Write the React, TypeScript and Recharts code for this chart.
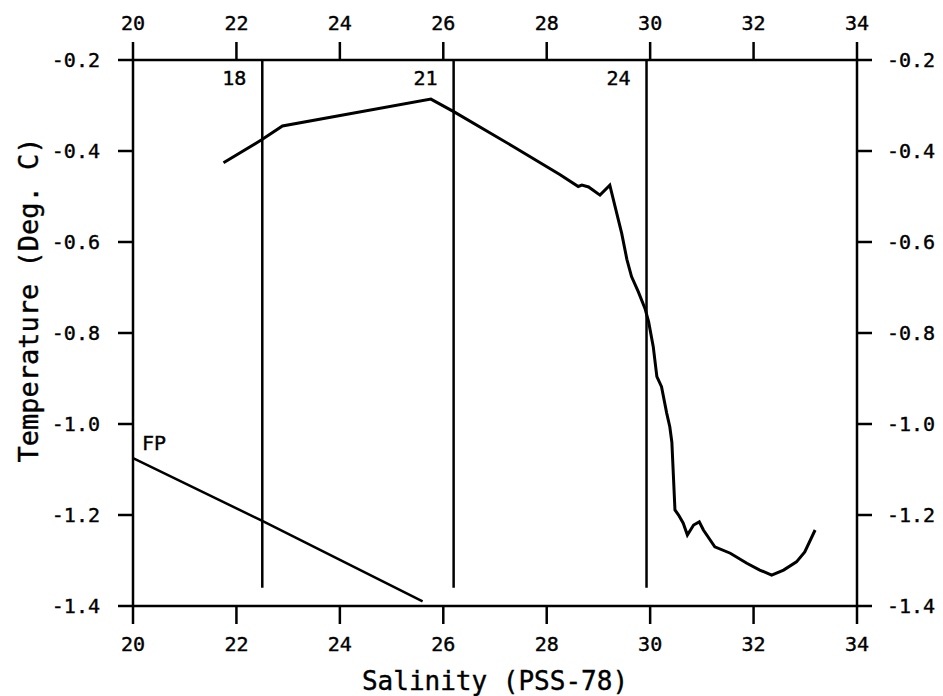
import { LineChart, Line, XAxis, YAxis, ReferenceLine, ReferenceDot, Label } from "recharts";

// T-S profile
const salinity = [
  21.75, 22.48, 22.89, 25.76, 26.21, 27.35, 28.26, 28.61, 28.68, 28.81, 29.03, 29.22, 29.45, 29.55,
  29.64, 29.77, 29.9, 29.97, 30.06, 30.13, 30.22, 30.32, 30.38, 30.42, 30.48, 30.55, 30.64, 30.72,
  30.84, 30.95, 31.03, 31.25, 31.55, 31.87, 32.12, 32.35, 32.58, 32.83, 32.99, 33.19,
];
const temperature = [
  -0.426, -0.376, -0.345, -0.286, -0.314, -0.39, -0.452, -0.478, -0.475, -0.479, -0.497, -0.475,
  -0.581, -0.638, -0.676, -0.709, -0.746, -0.775, -0.83, -0.896, -0.918, -0.976, -1.006, -1.04,
  -1.189, -1.2, -1.218, -1.244, -1.222, -1.215, -1.233, -1.27, -1.284, -1.306, -1.321, -1.332,
  -1.321, -1.303, -1.281, -1.233,
];

// freezing point line
const fpSalinity = [20, 22.5, 25.6];
const fpTemperature = [-1.075, -1.213, -1.39];

// sigma-t isopycnals
const sigmaSalinity = [22.5, 26.2, 29.93];
const sigmaLabels = ["18", "21", "24"];
const sigmaTop = -0.2;
const sigmaBottom = -1.36;

const xTicks = [20, 22, 24, 26, 28, 30, 32, 34];
const yTicks = [-0.2, -0.4, -0.6, -0.8, -1.0, -1.2, -1.4];

const profile = salinity.map((s, i) => ({ s, t: temperature[i] }));
const freezing = fpSalinity.map((s, i) => ({ s, t: fpTemperature[i] }));

const FONT = "'DejaVu Sans Mono', monospace";
const INK = "#000";
// thin outline on the glyphs to mimic the plotter pen
const tickStyle = { fill: INK, stroke: INK, strokeWidth: 0.4, fontFamily: FONT, fontSize: 20 };
const titleStyle = { fill: INK, stroke: INK, strokeWidth: 0.4, fontFamily: FONT, fontSize: 26 };
const axisLine = { stroke: INK, strokeWidth: 2.5 };

const SigmaLabel = ({ viewBox, text }: any) => (
  <text x={viewBox.x - 16} y={viewBox.y + 25} textAnchor="end" style={tickStyle}>
    {text}
  </text>
);

const FpLabel = ({ viewBox }: any) => (
  <text x={viewBox.x + 9} y={viewBox.y - 8} style={tickStyle}>
    FP
  </text>
);

const YTitle = ({ viewBox }: any) => {
  const cy = viewBox.y + viewBox.height / 2 - 33;
  return (
    <text
      transform={`translate(38, ${cy}) rotate(-90)`}
      textAnchor="middle"
      style={{ ...titleStyle, fontSize: 27 }}
    >
      Temperature (Deg. C)
    </text>
  );
};

export default function App() {
  return (
    <div style={{ position: "absolute", left: 0, top: 0, background: "#fff" }}>
      <LineChart width={943} height={696} margin={{ top: 0, right: 0, bottom: 0, left: 0 }}>
        <XAxis
          xAxisId="bottom"
          dataKey="s"
          type="number"
          domain={[20, 34]}
          ticks={xTicks}
          height={90}
          axisLine={axisLine}
          tickLine={axisLine}
          tickSize={18}
          tickMargin={13}
          tick={tickStyle}
          allowDataOverflow
        >
          <Label value="Salinity (PSS-78)" position="insideBottom" offset={6} style={titleStyle} />
        </XAxis>
        <XAxis
          xAxisId="top"
          dataKey="s"
          orientation="top"
          type="number"
          domain={[20, 34]}
          ticks={xTicks}
          height={60}
          axisLine={axisLine}
          tickLine={axisLine}
          tickSize={18}
          tickMargin={12}
          tick={tickStyle}
          allowDataOverflow
        />
        <YAxis
          yAxisId="left"
          type="number"
          domain={[-1.4, -0.2]}
          ticks={yTicks}
          width={133}
          axisLine={axisLine}
          tickLine={axisLine}
          tickSize={15}
          tickMargin={18}
          tick={tickStyle}
          tickFormatter={(v: number) => v.toFixed(1)}
          allowDataOverflow
        >
          <Label content={<YTitle />} />
        </YAxis>
        <YAxis
          yAxisId="right"
          orientation="right"
          type="number"
          domain={[-1.4, -0.2]}
          ticks={yTicks}
          width={86}
          axisLine={axisLine}
          tickLine={axisLine}
          tickSize={15}
          tickMargin={15}
          tick={tickStyle}
          tickFormatter={(v: number) => v.toFixed(1)}
          allowDataOverflow
        />

        {sigmaSalinity.map((s, i) => (
          <ReferenceLine
            key={s}
            xAxisId="bottom"
            yAxisId="left"
            segment={[
              { x: s, y: sigmaTop },
              { x: s, y: sigmaBottom },
            ]}
            stroke={INK}
            strokeWidth={2.5}
            label={<Label content={<SigmaLabel text={sigmaLabels[i]} />} />}
          />
        ))}

        <ReferenceDot
          xAxisId="bottom"
          yAxisId="left"
          x={fpSalinity[0]}
          y={fpTemperature[0]}
          r={0}
          fill="none"
          stroke="none"
          label={<Label content={<FpLabel />} />}
        />

        {/* invisible twin so the top and right axes have a series of their own */}
        <Line
          xAxisId="top"
          yAxisId="right"
          data={profile}
          dataKey="t"
          stroke="none"
          dot={false}
          activeDot={false}
          legendType="none"
          isAnimationActive={false}
        />
        <Line
          xAxisId="bottom"
          yAxisId="left"
          data={freezing}
          dataKey="t"
          type="linear"
          stroke={INK}
          strokeWidth={2.5}
          dot={false}
          activeDot={false}
          isAnimationActive={false}
        />
        <Line
          xAxisId="bottom"
          yAxisId="left"
          data={profile}
          dataKey="t"
          type="linear"
          stroke={INK}
          strokeWidth={3}
          dot={false}
          activeDot={false}
          isAnimationActive={false}
        />
      </LineChart>
    </div>
  );
}
